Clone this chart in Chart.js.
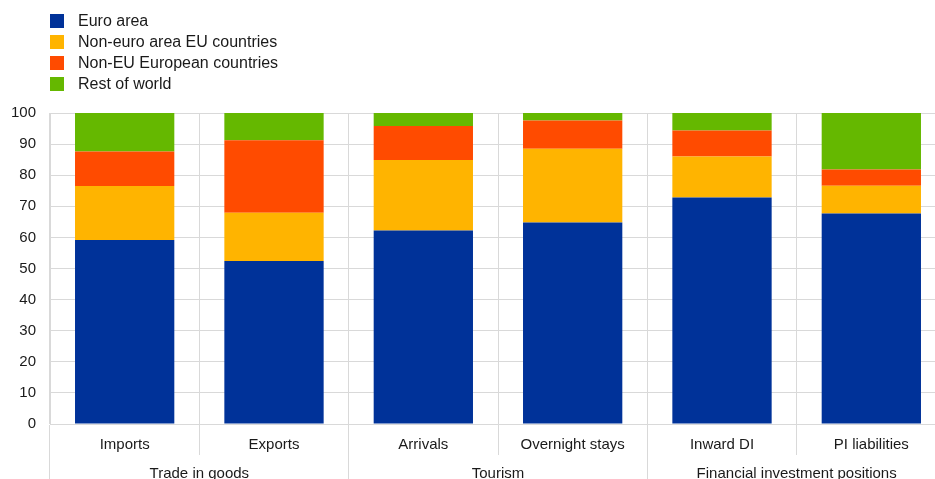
<!DOCTYPE html>
<html>
<head>
<meta charset="utf-8">
<script src="https://cdn.jsdelivr.net/npm/chart.js@4"></script>
<style>
  html, body { margin: 0; padding: 0; background: #fff; overflow: hidden; }
  #wrap { position: relative; width: 946px; height: 479px; }
  #legend {
    position: absolute; left: 50px; top: 10px;
    font: 16px "Liberation Sans", Arial, sans-serif; color: #1a1a1a;
  }
  .item { display: flex; align-items: center; height: 21px; }
  .swatch { width: 14px; height: 14px; margin-right: 14px; }
</style>
</head>
<body>
<div id="wrap">
  <canvas id="chart" width="946" height="479"></canvas>
  <div id="legend"></div>
</div>
<script>
// Categories and group labels on the x axis
const categories = ["Imports", "Exports", "Arrivals", "Overnight stays", "Inward DI", "PI liabilities"]
const groups = ["Trade in goods", "Tourism", "Financial investment positions"]

// Series (percentage shares)
const seriesNames = ["Euro area", "Non-euro area EU countries", "Non-EU European countries", "Rest of world"]
const euroArea = [59.2, 52.4, 62.2, 64.8, 72.8, 67.7]
const nonEuroEU = [17.3, 15.5, 22.7, 23.7, 13.2, 8.9]
const nonEUEurope = [11.1, 23.3, 10.9, 9.1, 8.4, 5.2]
const restOfWorld = [12.4, 8.8, 4.2, 2.4, 5.6, 18.2]

// y axis range
const yMin = 0
const yMax = 100
const yStep = 10

const COLORS = ["#003299", "#FFB400", "#FF4B00", "#65B800"]
const GRID = "#d9d9d9"
const FONT = { family: "'Liberation Sans', Arial, sans-serif", size: 15 }
const TEXT = "#1a1a1a"

const seriesData = [euroArea, nonEuroEU, nonEUEurope, restOfWorld]

const chart = new Chart(document.getElementById("chart"), {
  type: "bar",
  data: {
    labels: categories,
    datasets: seriesNames.map((name, i) => ({
      label: name,
      data: seriesData[i],
      backgroundColor: COLORS[i],
      borderWidth: 0,
      categoryPercentage: 1,
      barPercentage: 0.665
    }))
  },
  options: {
    responsive: false,
    animation: false,
    layout: { padding: { top: 113, left: 0, right: 0, bottom: 0 } },
    plugins: { legend: { display: false }, tooltip: { enabled: false } },
    scales: {
      // category row: separators stop just under the labels
      x: {
        stacked: true,
        weight: 0,
        offset: true,
        grid: { offset: true, color: GRID, tickColor: GRID, tickLength: 31, drawTicks: true },
        border: { color: GRID },
        ticks: { font: FONT, color: TEXT, padding: -19, autoSkip: false, maxRotation: 0 },
        afterFit: (axis) => { axis.height = 31 }
      },
      // group row: separators continue between groups only
      x2: {
        type: "category",
        labels: groups,
        position: "bottom",
        weight: 1,
        offset: true,
        grid: { offset: true, drawOnChartArea: false, color: GRID, tickColor: GRID, tickLength: 24 },
        border: { display: false },
        ticks: { font: FONT, color: TEXT, padding: -14, autoSkip: false, maxRotation: 0 },
        afterFit: (axis) => { axis.height = 24 }
      },
      y: {
        stacked: true,
        min: yMin,
        max: yMax,
        grid: { color: GRID, drawTicks: false },
        border: { color: GRID },
        ticks: { stepSize: yStep, font: FONT, color: TEXT, padding: 14 },
        afterFit: (axis) => { axis.width = 50 }
      }
    }
  }
})

// HTML legend from the chart's datasets
const legend = document.getElementById("legend")
chart.data.datasets.forEach((ds) => {
  const item = document.createElement("div")
  item.className = "item"
  const sw = document.createElement("span")
  sw.className = "swatch"
  sw.style.background = ds.backgroundColor
  const label = document.createElement("span")
  label.textContent = ds.label
  item.append(sw, label)
  legend.append(item)
})
</script>
</body>
</html>
